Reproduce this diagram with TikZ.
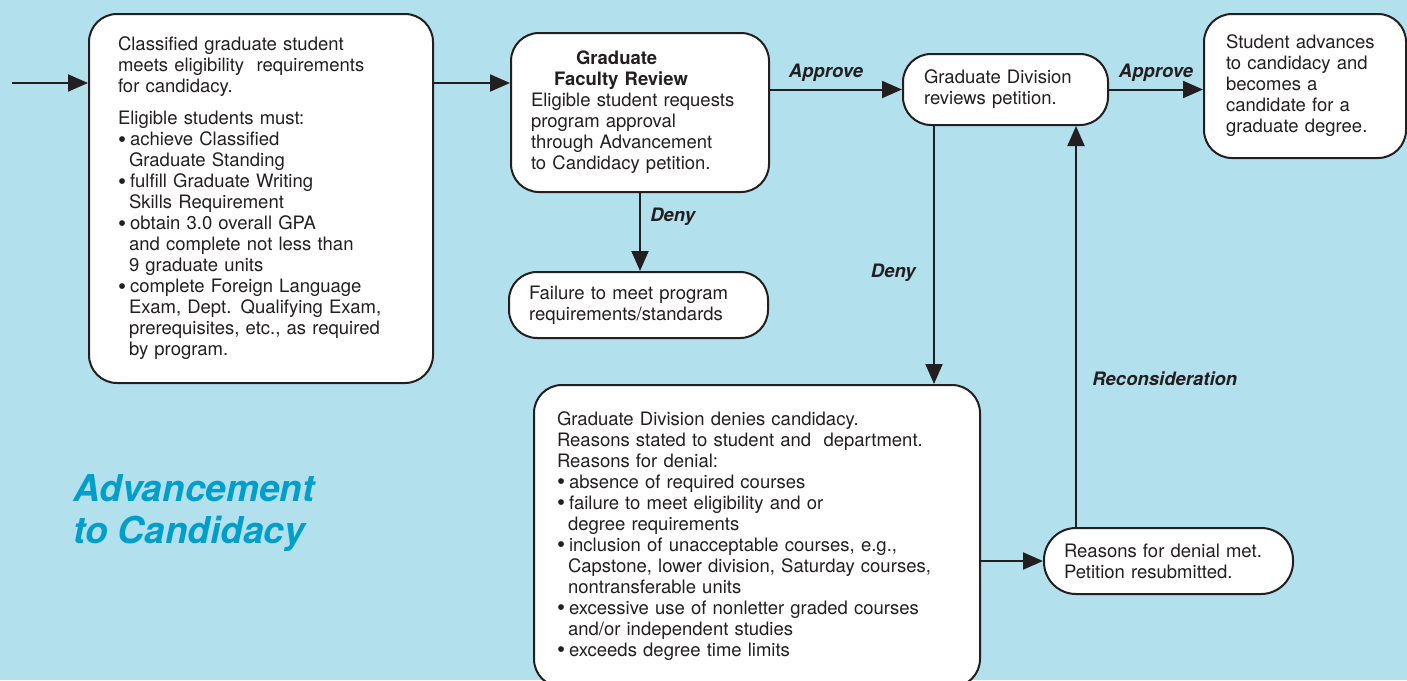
\documentclass[tikz,border=0pt]{standalone}
\usepackage{fontspec}
\setmainfont{TeX Gyre Heros}
\usetikzlibrary{arrows.meta,positioning}

\definecolor{bgblue}{RGB}{178,224,236}
\definecolor{titleblue}{RGB}{0,158,204}
\definecolor{ink}{RGB}{35,31,32}
\newcommand{\indl}{\hspace*{11pt}}
\newcommand{\bul}{\raisebox{-1.6pt}{\fontsize{23}{21}\selectfont•}\hspace{4pt}}

\begin{document}
\begin{tikzpicture}[x=1pt, y=-1pt,
    font=\fontsize{18.5}{21}\selectfont,
    stage/.style={draw=ink, line width=2pt, fill=white, rounded corners=28pt,
                  align=left, anchor=north west, inner ysep=0pt, text=ink},
    flow/.style={draw=ink, line width=2pt, -{Triangle[length=20pt,width=17pt]}},
    verdict/.style={font=\fontsize{18.5}{21}\selectfont\bfseries\itshape, text=ink}]
    \useasboundingbox (0,0) rectangle (1407,680);
    \fill[bgblue] (0,0) rectangle (1407,680);

    % boxes
    \node (elig) [stage, text width=286pt, inner xsep=29pt, minimum height=369pt] at (88,13)
        {Classified graduate student\\meets eligibility\ \ requirements\\for candidacy.\\[11pt]
         Eligible students must:\\
         \bul achieve Classified\\\indl Graduate Standing\\
         \bul fulfill Graduate Writing\\\indl Skills Requirement\\
         \bul obtain 3.0 overall GPA\\\indl and complete not less than\\\indl 9 graduate units\\
         \bul complete Foreign Language\\\indl Exam, Dept. Qualifying Exam,\\\indl prerequisites, etc., as required\\\indl by program.};
    \node (review) [stage, text width=218pt, inner xsep=20pt, minimum height=159pt] at (510,32)
        {\hspace*{45pt}\textbf{Graduate}\\\hspace*{23pt}\textbf{Faculty Review}\\
         Eligible student requests\\program approval\\through Advancement\\to Candidacy petition.};
    \node (gdiv) [stage, text width=163pt, inner xsep=21pt, minimum height=71pt] at (902,53)
        {Graduate Division\\reviews petition.};
    \node (adv) [stage, text width=158pt, inner xsep=22pt, minimum height=144pt] at (1203,13)
        {Student advances\\to candidacy and\\becomes a\\candidate for a\\graduate degree.};
    \node (fail) [stage, text width=219pt, inner xsep=20pt, minimum height=66pt] at (508,271)
        {Failure to meet program\\requirements/standards};
    \node (denies) [stage, text width=400pt, inner xsep=23pt, minimum height=302pt] at (533,384)
        {Graduate Division denies candidacy.\\Reasons stated to student and\ \ department.\\Reasons for denial:\\
         \bul absence of required courses\\
         \bul failure to meet eligibility and or\\\indl degree requirements\\
         \bul inclusion of unacceptable courses, e.g.,\\\indl Capstone, lower division, Saturday courses,\\\indl nontransferable units\\
         \bul excessive use of nonletter graded courses\\\indl and/or independent studies\\
         \bul exceeds degree time limits};
    \node (resub) [stage, text width=209pt, inner xsep=20pt, minimum height=66pt, rounded corners=32pt] at (1043,527)
        {Reasons for denial met.\\Petition resubmitted.};

    \node (title) [font=\fontsize{37}{42}\selectfont\bfseries\itshape, text=titleblue,
                   align=left, anchor=north west, inner sep=0pt] at (73,474)
        {Advancement\\to Candidacy};

    % connectors
    \coordinate (start) at (12,83);
    \draw[flow] (start) -- (start -| elig.west);
    \draw[flow] (start -| elig.east) -- (start -| review.west);
    \draw[flow] (review.east |- gdiv.west) -- node[verdict, above=4pt, xshift=-10pt] {Approve} (gdiv.west);
    \draw[flow] (gdiv.east) -- node[verdict, above=4pt] {Approve} (gdiv.east -| adv.west);
    \draw[flow] (review.south) -- node[verdict, right=6pt, pos=0.3] {Deny} (review.south |- fail.north);
    \draw[flow] ([xshift=32pt]gdiv.south west) -- node[verdict, left=14pt, pos=0.57] {Deny} ([xshift=32pt]gdiv.south west |- denies.north);
    \draw[flow] (denies.east |- resub.west) -- (resub.west);
    \draw[flow] ([xshift=33pt]resub.north west) -- node[verdict, right=12pt, pos=0.37] {Reconsideration} ([xshift=33pt]resub.north west |- gdiv.south);
\end{tikzpicture}
\end{document}
